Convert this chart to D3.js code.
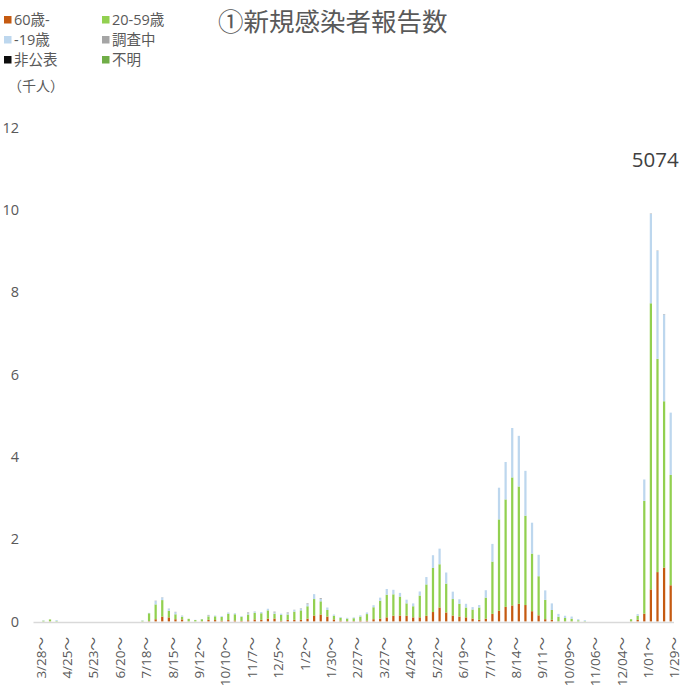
<!DOCTYPE html>
<html><head><meta charset="utf-8">
<script src="https://cdn.jsdelivr.net/npm/d3@7"></script>
<style>
body{margin:0;background:#fff;}
svg{display:block;font-family:"Open Sans","Noto Sans CJK JP",sans-serif;}
</style></head>
<body><svg id="c" width="687" height="691"></svg>
<script>
const weeks = ["3/28","4/4","4/11","4/18","4/25","5/2","5/9","5/16","5/23","5/30","6/6","6/13","6/20","6/27","7/4","7/11",
"7/18","7/25","8/1","8/8","8/15","8/22","8/29","9/5","9/12","9/19","9/26","10/3","10/10","10/17","10/24","10/31",
"11/7","11/14","11/21","11/28","12/5","12/12","12/19","12/26","1/2","1/9","1/16","1/23","1/30","2/6","2/13","2/20",
"2/27","3/6","3/13","3/20","3/27","4/3","4/10","4/17","4/24","5/1","5/8","5/15","5/22","5/29","6/5","6/12",
"6/19","6/26","7/3","7/10","7/17","7/24","7/31","8/7","8/14","8/21","8/28","9/4","9/11","9/18","9/25","10/02",
"10/09","10/16","10/23","10/30","11/06","11/13","11/20","11/27","12/04","12/11","12/18","12/25","1/01","1/08","1/15","1/22","1/29"];
const tickLabels = ["3/28","4/25","5/23","6/20","7/18","8/15","9/12","10/10","11/7","12/5","1/2","1/30","2/27","3/27","4/24","5/22","6/19","7/17","8/14","9/11","10/09","11/06","12/04","1/01","1/29"];

// thousands of people per week
const age60 = [0,0,0.005,0,0,0,0,0,0,0,0,0,0,0,0,0,
0,0.01,0.055,0.12,0.1,0.055,0.05,0.005,0,0.005,0.04,0.035,0.02,0.035,0.025,0.015,
0.03,0.05,0.04,0.07,0.07,0.02,0.04,0.04,0.04,0.07,0.145,0.17,0.12,0.05,0.02,0.01,
0.01,0.02,0.02,0.056,0.07,0.1,0.14,0.145,0.14,0.1,0.1,0.14,0.23,0.34,0.22,0.145,
0.12,0.1,0.07,0.04,0.07,0.185,0.26,0.355,0.39,0.43,0.40,0.25,0.15,0.056,0.04,0.005,
0.005,0.005,0,0,0,0,0,0,0,0,0.005,0.04,0.19,0.78,1.20,1.31,0.88];
const age20_59 = [0,0.02,0.045,0.015,0,0,0,0,0,0,0,0,0,0,0,0,
0.02,0.19,0.36,0.40,0.16,0.12,0.065,0.06,0.035,0.05,0.085,0.09,0.09,0.155,0.15,0.1,
0.14,0.16,0.16,0.2,0.12,0.14,0.13,0.2,0.23,0.3,0.40,0.32,0.16,0.09,0.07,0.06,
0.07,0.1,0.16,0.29,0.435,0.55,0.52,0.46,0.30,0.27,0.53,0.76,1.07,1.05,0.70,0.40,
0.31,0.24,0.22,0.30,0.51,1.27,2.22,2.61,3.11,2.85,2.17,1.40,0.95,0.47,0.24,0.11,
0.08,0.06,0.03,0.01,0,0,0,0,0,0,0.05,0.10,2.74,6.95,5.18,4.04,2.68];
const age19 = [0,0.01,0,0.02,0,0,0,0,0,0,0,0,0,0,0,0,
0.01,0.01,0.08,0.065,0.05,0.05,0.025,0,0.005,0.005,0.02,0.02,0.02,0.03,0.025,0.015,
0.03,0.03,0.03,0.04,0.03,0.03,0.03,0.04,0.04,0.05,0.12,0.06,0.06,0.03,0.02,0.02,
0.02,0.03,0.04,0.05,0.075,0.14,0.11,0.09,0.09,0.07,0.1,0.18,0.31,0.38,0.27,0.18,
0.11,0.09,0.06,0.06,0.18,0.43,0.77,0.91,1.20,1.23,1.09,0.75,0.52,0.23,0.16,0.07,
0.055,0.055,0.026,0.02,0,0,0,0,0,0,0,0.04,0.52,2.17,2.62,2.11,1.514];
const investigating = [0,0,0,0,0,0,0,0,0,0,0,0,0,0,0,0,
0,0,0.01,0.005,0.005,0.01,0.005,0,0,0,0.015,0,0,0,0,0,
0.02,0.005,0,0,0.02,0,0.02,0.005,0.01,0.02,0,0.02,0,0,0,0,
0,0,0,0,0,0,0,0,0,0,0,0,0,0,0,0,
0,0,0,0,0,0,0,0,0,0,0,0,0,0,0,0,
0,0,0,0,0,0,0,0,0,0,0,0,0,0.01,0.01,0.01,0];
const undisclosed = new Array(97).fill(0);
const unknown = new Array(97).fill(0);

const seriesNames = ["60歳-","20-59歳","-19歳","調査中","非公表","不明"];
const seriesColors = ["#C55A11","#92D050","#BDD7EE","#A5A5A5","#0D0D0D","#70AD47"];
const seriesData = [age60, age20_59, age19, investigating, undisclosed, unknown];
const yTicks = [0,2,4,6,8,10,12];
const lastLabel = "5074";

const svg = d3.select("#c");
const textColor = "#595959";

const rows = weeks.map((w,i)=>{
  const r = {week:w};
  seriesNames.forEach((s,k)=>r[s]=seriesData[k][i]);
  return r;
});
const stack = d3.stack().keys(seriesNames)(rows);

const x = d3.scaleBand().domain(weeks).range([33.5,674]).paddingInner(0.66).paddingOuter(0.33);
const y = d3.scaleLinear().domain([0,12]).range([621.5,127.5]);

// bars
svg.append("g").selectAll("g").data(stack).join("g")
  .attr("fill",(d,i)=>seriesColors[i])
  .selectAll("rect").data(d=>d).join("rect")
  .attr("x",d=>x(d.data.week))
  .attr("width",x.bandwidth())
  .attr("y",d=>y(d[1]))
  .attr("height",d=>Math.max(0,y(d[0])-y(d[1])));

// x axis line
svg.append("line").attr("x1",33.5).attr("x2",674).attr("y1",622.5).attr("y2",622.5)
  .attr("stroke","#D9D9D9").attr("stroke-width",1.5);

// y tick labels
svg.append("g").selectAll("text").data(yTicks).join("text")
  .attr("x",19).attr("y",d=>y(d)).attr("dy","0.35em")
  .attr("text-anchor","end").attr("fill",textColor)
  .attr("font-size",14.5).text(d=>d);

// x tick labels
const tickSet = new Set(tickLabels);
svg.append("g").selectAll("text").data(weeks.filter(w=>tickSet.has(w) && weeks.indexOf(w)%4===0)).join("text")
  .attr("transform",d=>`translate(${x(d)+x.bandwidth()/2+4},637) rotate(-90)`)
  .attr("text-anchor","end").attr("dy","0.35em")
  .attr("fill",textColor).attr("font-size",13.5)
  .text(d=>d+"～");

// title
svg.append("text").attr("x",218).attr("y",31).attr("fill",textColor)
  .attr("font-size",25.5).attr("font-family","'Noto Sans CJK JP',sans-serif")
  .text("①新規感染者報告数");

// legend
const legendPos = [[4,20],[102,20],[4,40],[102,40],[4,60],[102,60]];
const legendOrder = [0,1,2,3,4,5];
const lg = svg.append("g").selectAll("g").data(legendOrder).join("g")
  .attr("transform",(d,i)=>`translate(${legendPos[i][0]},${legendPos[i][1]})`);
lg.append("rect").attr("x",0).attr("y",-4).attr("width",7.5).attr("height",7.5)
  .attr("fill",d=>seriesColors[d]);
lg.append("text").attr("x",10).attr("y",0).attr("dy","0.35em")
  .attr("fill",textColor).attr("font-size",14.5)
  .attr("font-family","'Open Sans','Noto Sans CJK JP',sans-serif")
  .text(d=>seriesNames[d]);

svg.append("text").attr("x",8).attr("y",86).attr("dy","0.35em").attr("fill",textColor)
  .attr("font-size",14).attr("font-family","'Noto Sans CJK JP',sans-serif").text("（千人）");

// last value label
svg.append("text").attr("x",x(weeks[weeks.length-1])+x.bandwidth()/2+8).attr("y",y(11.0)-1.5)
  .attr("text-anchor","end").attr("fill","#404040").attr("font-size",20.5).text(lastLabel);
</script></body></html>
